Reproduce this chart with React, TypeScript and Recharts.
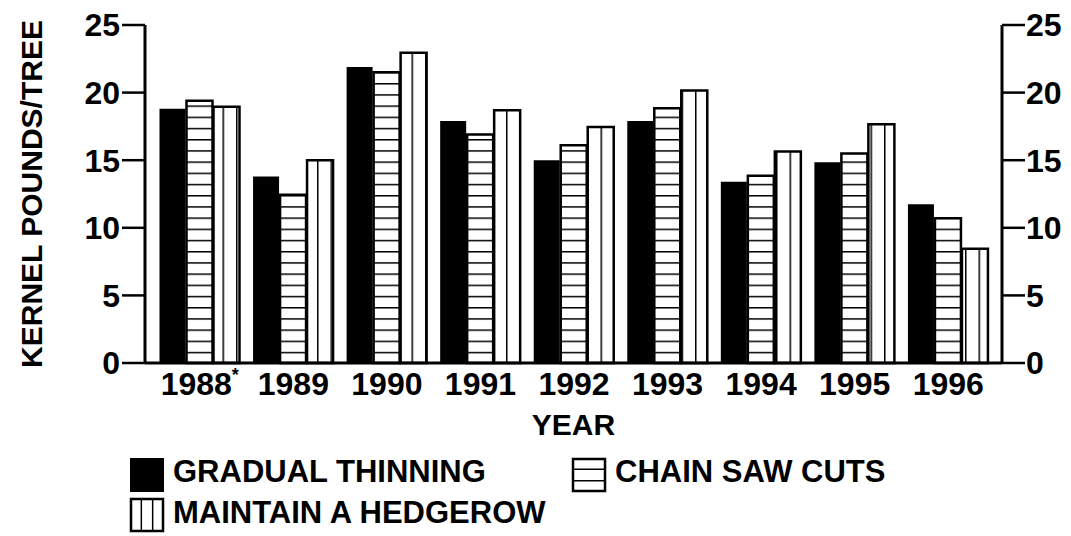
import React from "react"
import { Bar, BarChart, XAxis, YAxis, Legend } from "recharts"

const years = ["1988*", "1989", "1990", "1991", "1992", "1993", "1994", "1995", "1996"]
const gradualThinning = [18.8, 13.8, 21.9, 17.9, 15.0, 17.9, 13.4, 14.85, 11.75]
const chainSawCuts = [19.4, 12.45, 21.5, 16.9, 16.1, 18.85, 13.85, 15.5, 10.7]
const maintainHedgerow = [18.95, 15.0, 22.95, 18.7, 17.45, 20.15, 15.65, 17.65, 8.45]
const yTicks = [0, 5, 10, 15, 20, 25]

const data = years.map((year, i) => ({
  year,
  gradual: gradualThinning[i],
  chain: chainSawCuts[i],
  hedgerow: maintainHedgerow[i],
}))

const FONT = "'Liberation Sans', Arial, Helvetica, sans-serif"
const tickStyle = { fill: "#000", fontSize: 32, fontWeight: 700, fontFamily: FONT }

const YearTick = ({ x, y, payload }: any) => {
  const label: string = payload.value
  const star = label.endsWith("*")
  const digits = star ? label.slice(0, -1) : label
  return (
    <text x={x} y={y + 32} textAnchor="middle" fill="#000" fontSize={32} fontWeight={700} fontFamily={FONT}>
      {digits}
      {star && (
        <tspan fontSize={18} dy={-14}>
          *
        </tspan>
      )}
    </text>
  )
}

const YLabel = ({ viewBox }: any) => {
  const cx = viewBox.x + 31
  const cy = viewBox.y + viewBox.height / 2
  return (
    <text
      x={cx}
      y={cy}
      transform={`rotate(-90, ${cx}, ${cy})`}
      textAnchor="middle"
      dominantBaseline="central"
      fill="#000"
      fontSize={30}
      fontWeight={700}
      fontFamily={FONT}
    >
      KERNEL POUNDS/TREE
    </text>
  )
}

// right axis ticks drawn by hand-off to this renderer so they show even with no series bound
const RightTick = ({ x, y, payload }: any) => (
  <text x={x} y={y} dy="0.355em" textAnchor="start" {...tickStyle}>
    {payload.value}
  </text>
)

const legendItems = [
  { name: "GRADUAL THINNING", kind: "solid", x: 130, row: 0 },
  { name: "CHAIN SAW CUTS", kind: "horiz", x: 572, row: 0 },
  { name: "MAINTAIN A HEDGEROW", kind: "vert", x: 130, row: 1 },
]

const LegendIcon = ({ kind, x, y }: { kind: string; x: number; y: number }) => {
  const s = 34
  if (kind === "solid") return <rect x={x} y={y} width={s} height={s} fill="#000" />
  const lines = [1, 2].map((k) =>
    kind === "horiz" ? (
      <line key={k} x1={x} x2={x + s} y1={y + (s * k) / 3} y2={y + (s * k) / 3} stroke="#000" strokeWidth={1.5} />
    ) : (
      <line key={k} x1={x + (s * k) / 3} x2={x + (s * k) / 3} y1={y} y2={y + s} stroke="#000" strokeWidth={1.5} />
    )
  )
  return (
    <g>
      <rect x={x + 1} y={y + 1} width={s - 2} height={s - 2} fill="#fff" stroke="#000" strokeWidth={2.5} />
      {lines}
    </g>
  )
}

const renderLegend = () => (
  <svg width={1071} height={86} style={{ display: "block" }}>
    {legendItems.map((item) => {
      const top = 8 + item.row * 40
      return (
        <g key={item.name}>
          <LegendIcon kind={item.kind} x={item.x} y={top} />
          <text x={item.x + 43} y={top + 24 + item.row} fill="#000" fontSize={31} fontWeight={700} fontFamily={FONT}>
            {item.name}
          </text>
        </g>
      )
    })}
  </svg>
)

export default function App() {
  return (
    <div style={{ position: "absolute", left: 0, top: 0, background: "#fff" }}>
      <BarChart
        width={1071}
        height={536}
        data={data}
        margin={{ top: 25, right: 0, left: 0, bottom: 98 }}
        barGap={1}
        barCategoryGap={6.5}
      >
        <defs>
          <pattern id="horizLines" patternUnits="userSpaceOnUse" width={10} height={11.2} y={363}>
            <rect width={10} height={11.2} fill="#fff" />
            <line x1={0} x2={10} y1={0.75} y2={0.75} stroke="#000" strokeWidth={1.5} />
          </pattern>
          <pattern id="vertLines" patternUnits="userSpaceOnUse" width={13.5} height={10} x={222.5}>
            <rect width={13.5} height={10} fill="#fff" />
            <line x1={0.75} x2={0.75} y1={0} y2={10} stroke="#000" strokeWidth={1.5} />
          </pattern>
        </defs>
        <XAxis
          dataKey="year"
          tick={<YearTick />}
          tickLine={false}
          tickSize={0}
          tickMargin={0}
          axisLine={{ stroke: "#000", strokeWidth: 3 }}
          height={75}
          padding={{ left: 8, right: 7 }}
          interval={0}
          label={{
            value: "YEAR",
            position: "insideBottom",
            offset: 3,
            fill: "#000",
            fontSize: 30,
            fontWeight: 700,
            fontFamily: FONT,
          }}
        />
        <YAxis
          yAxisId="left"
          domain={[0, 25]}
          ticks={yTicks}
          width={145}
          tick={tickStyle}
          tickSize={23}
          tickMargin={2}
          tickLine={{ stroke: "#000", strokeWidth: 2.5 }}
          axisLine={{ stroke: "#000", strokeWidth: 3 }}
          label={<YLabel />}
        />
        <YAxis
          yAxisId="right"
          orientation="right"
          type="number"
          domain={[0, 25]}
          allowDataOverflow
          ticks={yTicks}
          width={69}
          tick={<RightTick />}
          tickSize={23}
          tickMargin={1}
          tickLine={{ stroke: "#000", strokeWidth: 2.5 }}
          axisLine={{ stroke: "#000", strokeWidth: 3 }}
        />
        <Legend
          layout="horizontal"
          verticalAlign="middle"
          align="center"
          content={renderLegend}
          wrapperStyle={{ left: 0, top: 450, width: 1071, height: 86 }}
        />
        <Bar yAxisId="left" dataKey="gradual" name="GRADUAL THINNING" fill="#000" isAnimationActive={false} />
        <Bar
          yAxisId="left"
          dataKey="chain"
          name="CHAIN SAW CUTS"
          fill="url(#horizLines)"
          stroke="#000"
          strokeWidth={2.5}
          isAnimationActive={false}
        />
        <Bar
          yAxisId="left"
          dataKey="hedgerow"
          name="MAINTAIN A HEDGEROW"
          fill="url(#vertLines)"
          stroke="#000"
          strokeWidth={2.5}
          isAnimationActive={false}
        />
      </BarChart>
    </div>
  )
}
